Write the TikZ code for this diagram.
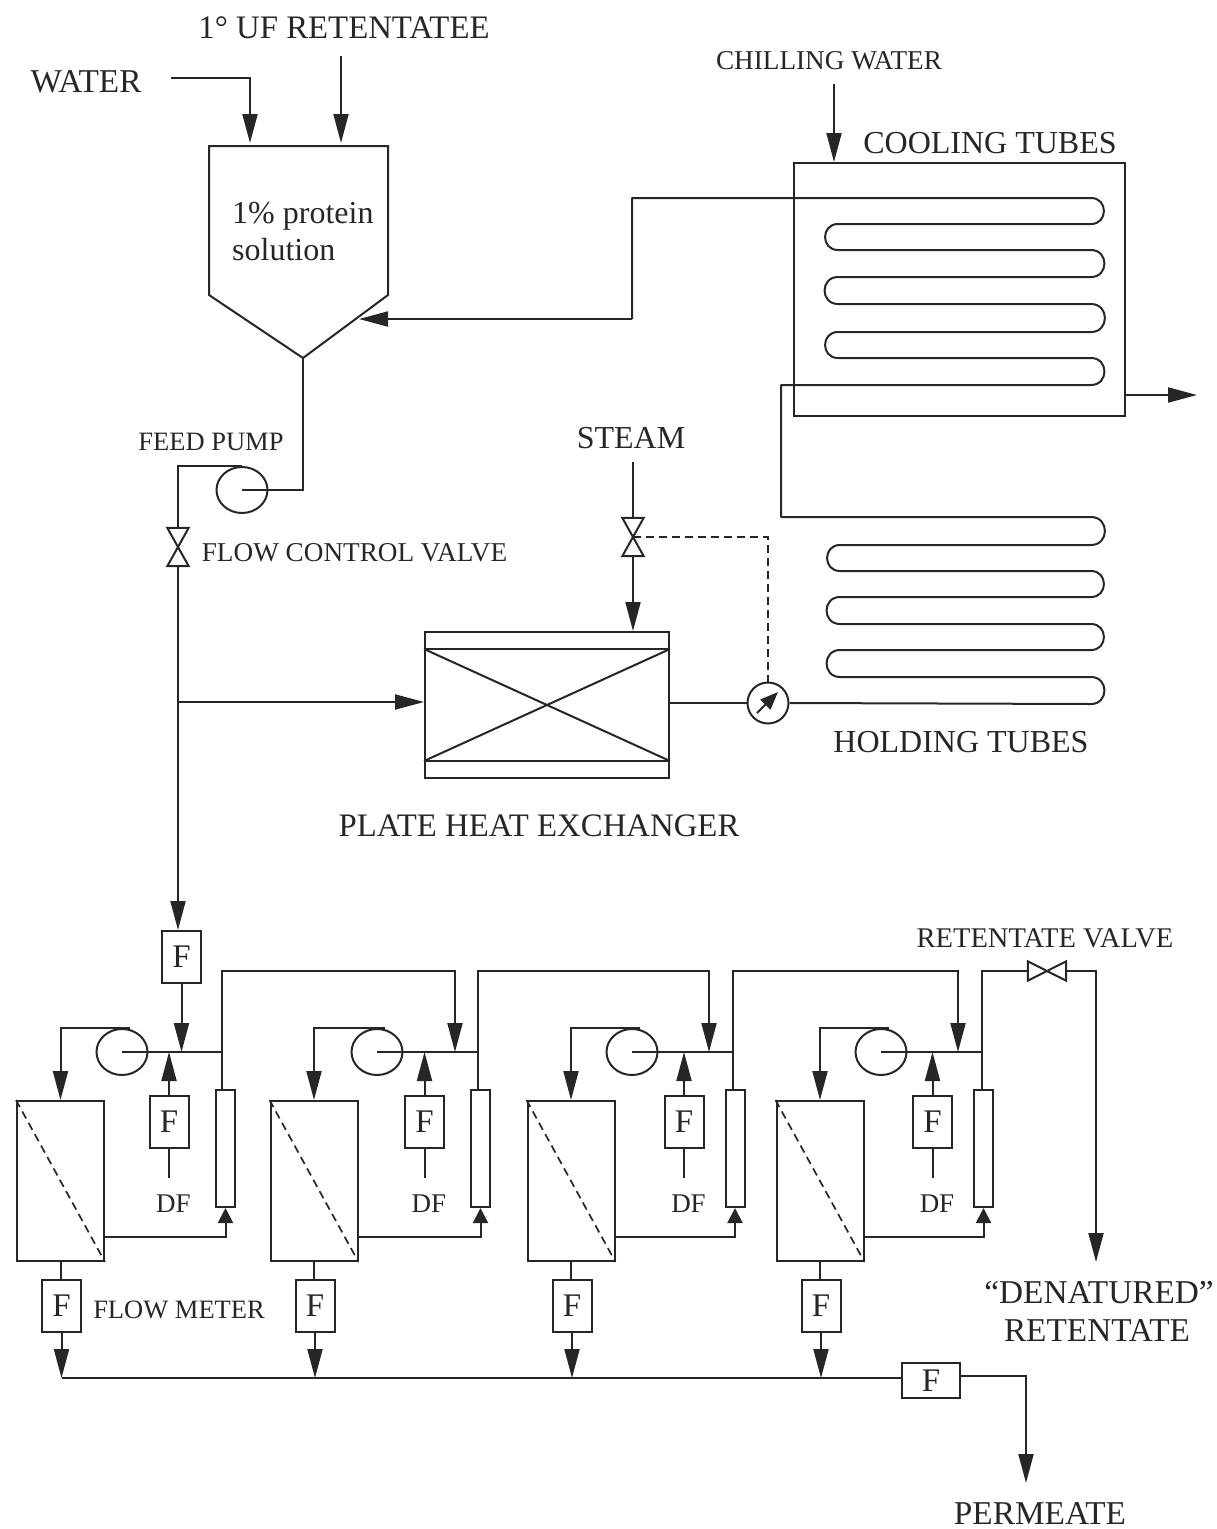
\documentclass[tikz,border=0pt]{standalone}
\usepackage{fontspec}
\setmainfont{Liberation Serif}
\usepackage{xcolor}
\usetikzlibrary{arrows.meta,calc,shapes.geometric}
\definecolor{inkdark}{HTML}{262626}

\begin{document}
\begin{tikzpicture}[
  x=1pt,y=-1pt,
  pipe/.style={draw=inkdark,line width=2pt},
  arrow/.style={pipe,-{Triangle[length=29pt,width=15pt]}},
  shortarrow/.style={pipe,-{Triangle[length=15pt,width=15pt]}},
  control/.style={draw=inkdark,line width=1.7pt,dash pattern=on 8pt off 5pt},
  box/.style={draw=inkdark,line width=2pt,inner sep=0pt,text=inkdark},
  meterbox/.style={box,minimum width=39pt,minimum height=52pt,font=\fontsize{33}{36}\selectfont},
  modulebox/.style={box,minimum width=87pt,minimum height=160pt},
  columnbox/.style={box,minimum width=19pt,minimum height=117pt},
  pumpshape/.style={box,shape=ellipse,minimum width=51pt,minimum height=46pt},
  valve/.style={inner sep=0pt,minimum width=21pt,minimum height=38pt},
  lbl/.style={text=inkdark,inner sep=0pt,anchor=base,yshift=-1pt},
  hugelabel/.style={lbl,font=\fontsize{33.3}{36}\selectfont},
  biglabel/.style={lbl,font=\fontsize{32}{36}\selectfont},
  midlabel/.style={lbl,font=\fontsize{27.2}{30}\selectfont},
  smalllabel/.style={lbl,font=\fontsize{26.5}{30}\selectfont},
  rbend/.style={out=0,in=0,looseness=1.7},
  lbend/.style={out=180,in=180,looseness=1.7}
]
\useasboundingbox (0,0) rectangle (1217,1529);
% labels
\node[hugelabel] (lwater) at (86,91) {WATER};
\node[hugelabel,font=\fontsize{32.8}{36}\selectfont] (lretentatee) at (344,37) {1° UF RETENTATEE};
\node[midlabel] (lchilling) at (829,68) {CHILLING WATER};
\node[biglabel] (lcooling) at (990,152) {COOLING TUBES};
\node[biglabel] (lsteam) at (631,447) {STEAM};
\node[smalllabel] (lfeed) at (211,449) {FEED PUMP};
\node[midlabel] (lflow) at (354.5,560) {FLOW CONTROL VALVE};
\node[biglabel] (lholding) at (961,751) {HOLDING TUBES};
\node[hugelabel,font=\fontsize{32.8}{36}\selectfont] (lplate) at (539,835) {PLATE HEAT EXCHANGER};
\node[midlabel,font=\fontsize{28.5}{30}\selectfont] (lretvalve) at (1045,946) {RETENTATE VALVE};
\node[smalllabel] (lmeter) at (179,1317) {FLOW METER};
\node[hugelabel] (ldenat) at (1099,1302) {“DENATURED”};
\node[hugelabel] (lret) at (1097,1340) {RETENTATE};
\node[hugelabel] (lperm) at (1040,1523) {PERMEATE};
\node[lbl,anchor=base west,font=\fontsize{32}{34}\selectfont] (lprotein) at (232,222) {1\% protein};
\node[lbl,anchor=base west,font=\fontsize{32}{34}\selectfont] (lsolution) at (232,259) {solution};

% feed tank
\coordinate (tanknw) at (209,146);
\coordinate (tankne) at (388,146);
\coordinate (tanke) at (388,295);
\coordinate (tankbot) at (303,358);
\coordinate (tankw) at (209,295);
\draw[pipe] (tanknw) -- (tankne) -- (tanke) -- (tankbot) -- (tankw) -- cycle;
\coordinate (waterin) at (171,78);
\coordinate (ufin) at (341,56);
\draw[arrow] (waterin) -| (250,143);
\draw[arrow] (ufin) -- (341,143);

% feed pump and valve
\node[pumpshape] (feedpump) at (242,490) {};
\node[valve] (feedvalve) at (178,547) {};
\draw[pipe] (feedvalve.north west) -- (feedvalve.north east) -- (feedvalve.south west) -- (feedvalve.south east) -- cycle;
\draw[pipe] (tankbot) |- (feedpump.center);
\draw[pipe] (feedpump.north) -| (feedvalve.north);
\node[meterbox] (ftop) at (181.5,957) {F};
\draw[arrow] (feedvalve.south) -- (ftop.north -| feedvalve);
\coordinate (tee) at (178,702);

% heat exchanger
\node[box,minimum width=244pt,minimum height=146pt] (plate) at (547,705) {};
\coordinate (platenw) at ($(plate.north west)+(0,18)$);
\coordinate (platene) at ($(plate.north east)+(0,18)$);
\coordinate (platesw) at ($(plate.south west)+(0,-18)$);
\coordinate (platese) at ($(plate.south east)+(0,-18)$);
\draw[pipe] (platenw) -- (platene) (platesw) -- (platese);
\draw[pipe] (platenw) -- (platese) (platesw) -- (platene);
\draw[arrow] (tee) -- (plate.west |- tee);

% steam
\coordinate (steamin) at (633,462);
\node[valve] (steamvalve) at (633,537) {};
\draw[pipe] (steamvalve.north west) -- (steamvalve.north east) -- (steamvalve.south west) -- (steamvalve.south east) -- cycle;
\draw[pipe] (steamin) -- (steamvalve.north);
\draw[arrow] (steamvalve.south) -- (plate.north -| steamvalve);
\node[box,shape=circle,minimum size=41pt] (tempgauge) at (768,703) {};
\draw[control] (steamvalve.center) -| (tempgauge.north);
\draw[pipe] (plate.east |- tempgauge) -- (tempgauge.west);
\draw[pipe,-{Triangle[length=18pt,width=14pt]}] ($(tempgauge)+(-11,10)$) -- ($(tempgauge)+(10,-11)$);

% holding tubes
\coordinate (hold) at (1091,517);
\draw[pipe,line join=round] (tempgauge.east) -- (1091,704) to[rbend] (1091,677) -- (840,677) to[lbend] (840,650)
 -- (1091,650) to[rbend] (1091,624) -- (840,624) to[lbend] (840,597)
 -- (1091,597) to[rbend] (1091,571) -- (840,571) to[lbend] (840,545)
 -- (1091,545) to[rbend] (hold) -- (781,517) -- (781,385)
% cooling tubes
 -- (1091,385) to[rbend] (1091,358) -- (838,358) to[lbend] (838,332)
 -- (1091,332) to[rbend] (1091,304) -- (838,304) to[lbend] (838,277)
 -- (1091,277) to[rbend] (1091,250) -- (838,250) to[lbend] (838,224)
 -- (1091,224) to[rbend] (1091,198) -- (632,198) -- (632,319);
\coordinate (tankreturn) at (359,319);
\draw[arrow] (632,319) -- (tankreturn);
\node[box,minimum width=331pt,minimum height=253pt] (cooler) at (959.5,289.5) {};
\coordinate (chillin) at (834,84);
\draw[arrow] (chillin) -- (834,162);
\coordinate (coolout) at (1197,395);
\draw[arrow] (cooler.east |- coolout) -- (coolout);

% filtration stages
\foreach \n/\mx/\px/\dx/\cx/\jx/\ix in {a/60.5/122/169/225.5/222/181.5,b/314/377/424.5/480.5/478/455,c/571/632/684/735/733/709,d/820/881/932.5/983.5/982/958}{
  \node[modulebox] (module\n) at (\mx,1181) {};
  \draw[control] (module\n.north west) -- (module\n.south east);
  \node[pumpshape] (pump\n) at (\px,1052) {};
  \node[meterbox] (dfmeter\n) at (\dx,1121.5) {F};
  \node[columnbox] (column\n) at (\cx,1148.5) {};
  \node[meterbox] (permeter\n) at (\mx+1,1305.5) {F};
  \node[lbl,font=\fontsize{27}{30}\selectfont] (dflabel\n) at (\dx+4.5,1211) {DF};
  \coordinate (junction\n) at (\jx,1052);
  \coordinate (entry\n) at (\ix,1052);
  \coordinate (dfend\n) at (\dx,1178);
  \coordinate (drop\n) at (\mx+1,1378);
  \draw[pipe] (pump\n.center) -- (junction\n);
  \draw[pipe] (junction\n) -- (junction\n |- column\n.north);
  \draw[arrow] ($(pump\n.north)+(8,0)$) -| (module\n.north);
  \draw[pipe] (dfend\n) -- (dfmeter\n.south);
  \draw[arrow] (dfmeter\n.north) -- (dfmeter\n.north |- junction\n);
  \draw[shortarrow] ($(module\n.south east)+(0,-25)$) -| (column\n.south);
  \draw[pipe] (module\n.south) -- (permeter\n.north -| module\n.south);
  \draw[arrow] (permeter\n.south) -- (drop\n);
}
\draw[arrow] (ftop.south) -- (entrya);
\foreach \a/\b in {a/b,b/c,c/d}{
  \draw[arrow] (junction\a) -- ++(0,-81) -| (entry\b);
}

% retentate out
\node[valve,minimum width=38pt,minimum height=19pt] (retvalve) at (1047,971) {};
\draw[pipe] (retvalve.north west) -- (retvalve.south west) -- (retvalve.north east) -- (retvalve.south east) -- cycle;
\draw[pipe] (junctiond) |- (retvalve.west);
\coordinate (retout) at (1096,1262);
\draw[arrow] (retvalve.east) -| (retout);

% permeate out
\node[box,minimum width=58pt,minimum height=35pt,font=\fontsize{33}{36}\selectfont] (fbus) at (931,1380.5) {F};
\draw[pipe] (dropa) -- (fbus.west |- dropa);
\coordinate (permout) at (1026,1483);
\draw[arrow] ($(fbus.east)+(0,-5)$) -| (permout);
\end{tikzpicture}
\end{document}
